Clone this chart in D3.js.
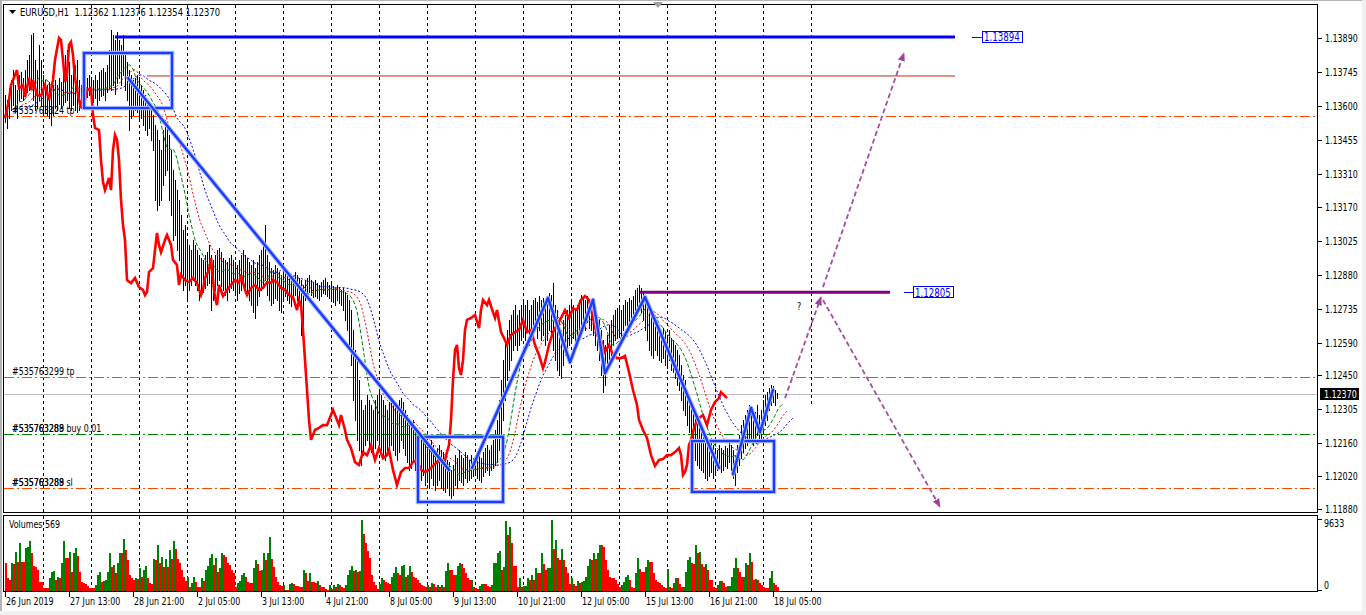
<!DOCTYPE html>
<html>
<head>
<meta charset="utf-8">
<title>EURUSD,H1</title>
<script src="https://cdnjs.cloudflare.com/ajax/libs/d3/7.8.5/d3.min.js"></script>
<style>
 html,body{margin:0;padding:0;background:#ffffff;overflow:hidden;}
 svg{display:block;}
 text{font-family:"Liberation Sans Narrow","DejaVu Sans Condensed","DejaVu Sans",sans-serif;font-size:11px;fill:#000;white-space:pre;}
</style>
</head>
<body>
<svg id="chart" width="1366" height="615"></svg>
<script>
// ---------------- DATA ----------------
const symbol = "EURUSD,H1";
const lastOHLC = ["1.12362", "1.12376", "1.12354", "1.12370"];
const bidPrice = 1.12370;
const volumeLabel = "Volumes 569";

// H1 bars, index 0 = 26 Jun 2019 05:00
const highs = [
1.13647,1.13625,1.13676,1.13711,1.13753,1.13689,1.13668,1.13732,1.13744,1.13719,
1.13753,1.13796,1.13817,1.13903,1.13911,1.13796,1.13753,1.13860,1.13796,1.13732,
1.13711,1.13689,1.13702,1.13676,1.13689,1.13711,1.13689,1.13719,1.13702,1.13753,
1.13817,1.13839,1.13787,1.13732,1.13804,1.13775,1.13796,1.13711,1.13689,1.13711,
1.13694,1.13719,1.13732,1.13719,1.13711,1.13732,1.13711,1.13744,1.13753,1.13762,
1.13744,1.13775,1.13839,1.13924,1.13903,1.13881,1.13915,1.13881,1.13860,1.13903,
1.13817,1.13787,1.13753,1.13732,1.13711,1.13719,1.13732,1.13711,1.13689,1.13668,
1.13647,1.13625,1.13604,1.13583,1.13561,1.13519,1.13497,1.13455,1.13412,1.13497,
1.13540,1.13519,1.13476,1.13412,1.13327,1.13284,1.13241,1.13199,1.13134,1.13071,
1.13092,1.13028,1.13007,1.12985,1.13028,1.13007,1.12985,1.12964,1.12951,1.12943,
1.12964,1.12976,1.13007,1.12964,1.12943,1.12964,1.12985,1.12994,1.12976,1.12951,
1.12943,1.12934,1.12951,1.12964,1.12943,1.12934,1.12921,1.12943,1.12964,1.12985,
1.12964,1.12951,1.12934,1.12921,1.12943,1.12908,1.12934,1.12964,1.12985,1.13028,
1.13092,1.12964,1.12934,1.12908,1.12900,1.12921,1.12908,1.12891,1.12879,1.12891,
1.12900,1.12879,1.12866,1.12857,1.12875,1.12891,1.12879,1.12866,1.12857,1.12836,
1.12857,1.12866,1.12879,1.12857,1.12848,1.12857,1.12844,1.12836,1.12848,1.12857,
1.12866,1.12848,1.12836,1.12840,1.12832,1.12823,1.12836,1.12827,1.12815,1.12823,
1.12806,1.12793,1.12772,1.12729,1.12644,1.12559,1.12516,1.12431,1.12345,1.12303,
1.12324,1.12366,1.12345,1.12324,1.12303,1.12345,1.12366,1.12388,1.12366,1.12345,
1.12324,1.12303,1.12336,1.12353,1.12345,1.12324,1.12311,1.12345,1.12353,1.12336,
1.12303,1.12281,1.12260,1.12238,1.12260,1.12217,1.12208,1.12183,1.12175,1.12196,
1.12175,1.12153,1.12140,1.12175,1.12153,1.12132,1.12140,1.12153,1.12132,1.12123,
1.12110,1.12089,1.12080,1.12047,1.12068,1.12110,1.12097,1.12132,1.12110,1.12097,
1.12123,1.12110,1.12089,1.12110,1.12097,1.12110,1.12123,1.12110,1.12097,1.12123,
1.12140,1.12153,1.12132,1.12153,1.12175,1.12217,1.12260,1.12345,1.12431,1.12516,
1.12601,1.12644,1.12687,1.12708,1.12729,1.12750,1.12708,1.12729,1.12750,1.12772,
1.12750,1.12772,1.12729,1.12750,1.12772,1.12780,1.12763,1.12789,1.12772,1.12780,
1.12772,1.12789,1.12802,1.12793,1.12844,1.12750,1.12729,1.12687,1.12644,1.12687,
1.12708,1.12729,1.12750,1.12772,1.12750,1.12729,1.12750,1.12772,1.12793,1.12780,
1.12772,1.12789,1.12772,1.12763,1.12750,1.12729,1.12708,1.12687,1.12644,1.12601,
1.12580,1.12622,1.12665,1.12687,1.12708,1.12729,1.12737,1.12750,1.12729,1.12750,
1.12772,1.12763,1.12780,1.12772,1.12789,1.12815,1.12823,1.12836,1.12823,1.12806,
1.12772,1.12750,1.12729,1.12708,1.12687,1.12695,1.12678,1.12665,1.12644,1.12652,
1.12635,1.12622,1.12644,1.12609,1.12601,1.12580,1.12559,1.12537,1.12494,1.12452,
1.12431,1.12388,1.12366,1.12345,1.12303,1.12281,1.12260,1.12238,1.12217,1.12196,
1.12183,1.12175,1.12166,1.12175,1.12153,1.12140,1.12132,1.12153,1.12140,1.12132,
1.12149,1.12140,1.12175,1.12153,1.12132,1.12110,1.12153,1.12196,1.12238,1.12260,
1.12281,1.12303,1.12324,1.12311,1.12303,1.12294,1.12324,1.12281,1.12303,1.12345,
1.12366,1.12379,1.12396,1.12409,1.12405,1.12388,1.12376
];
const lows = [
1.13531,1.13506,1.13548,1.13583,1.13604,1.13574,1.13548,1.13625,1.13634,1.13625,
1.13647,1.13659,1.13668,1.13689,1.13625,1.13583,1.13591,1.13625,1.13604,1.13574,
1.13574,1.13561,1.13548,1.13519,1.13561,1.13591,1.13583,1.13608,1.13591,1.13604,
1.13616,1.13625,1.13591,1.13583,1.13604,1.13583,1.13574,1.13583,1.13591,1.13625,
1.13625,1.13638,1.13647,1.13625,1.13616,1.13634,1.13600,1.13625,1.13643,1.13647,
1.13625,1.13659,1.13676,1.13668,1.13690,1.13650,1.13700,1.13719,1.13689,1.13732,
1.13668,1.13625,1.13497,1.13548,1.13561,1.13583,1.13574,1.13540,1.13548,1.13519,
1.13497,1.13476,1.13506,1.13455,1.13412,1.13199,1.13156,1.13177,1.13199,1.13262,
1.13305,1.13327,1.13199,1.13134,1.13028,1.13049,1.12985,1.12943,1.12879,1.12815,
1.12836,1.12772,1.12815,1.12836,1.12857,1.12836,1.12815,1.12772,1.12793,1.12806,
1.12823,1.12836,1.12844,1.12729,1.12772,1.12815,1.12836,1.12857,1.12832,1.12815,
1.12793,1.12772,1.12806,1.12823,1.12815,1.12793,1.12772,1.12802,1.12815,1.12836,
1.12823,1.12806,1.12772,1.12750,1.12720,1.12695,1.12750,1.12789,1.12815,1.12836,
1.12857,1.12793,1.12772,1.12750,1.12759,1.12780,1.12772,1.12729,1.12720,1.12772,
1.12789,1.12772,1.12759,1.12746,1.12780,1.12793,1.12772,1.12750,1.12622,1.12644,
1.12772,1.12789,1.12806,1.12793,1.12784,1.12789,1.12780,1.12772,1.12789,1.12802,
1.12798,1.12789,1.12780,1.12772,1.12763,1.12750,1.12772,1.12759,1.12750,1.12729,
1.12687,1.12644,1.12580,1.12494,1.12345,1.12260,1.12175,1.12132,1.12068,1.12110,
1.12153,1.12175,1.12140,1.12123,1.12110,1.12140,1.12175,1.12153,1.12132,1.12110,
1.12089,1.12110,1.12140,1.12153,1.12132,1.12110,1.12089,1.12123,1.12175,1.12140,
1.12110,1.12080,1.12047,1.12055,1.12080,1.12047,1.12025,1.12012,1.12004,1.12025,
1.11982,1.11995,1.11969,1.12012,1.11982,1.11961,1.11982,1.12004,1.11969,1.11961,
1.11952,1.11969,1.11940,1.11927,1.11940,1.11982,1.11969,1.12004,1.11995,1.11982,
1.12012,1.11995,1.12004,1.12012,1.12021,1.12025,1.12012,1.12004,1.11995,1.12021,
1.12038,1.12047,1.12025,1.12047,1.12055,1.12068,1.12080,1.12132,1.12175,1.12260,
1.12345,1.12431,1.12473,1.12516,1.12559,1.12580,1.12559,1.12580,1.12601,1.12622,
1.12601,1.12635,1.12580,1.12601,1.12622,1.12644,1.12609,1.12644,1.12601,1.12622,
1.12580,1.12601,1.12644,1.12622,1.12559,1.12516,1.12473,1.12452,1.12439,1.12494,
1.12537,1.12559,1.12580,1.12601,1.12609,1.12580,1.12601,1.12622,1.12644,1.12665,
1.12644,1.12678,1.12652,1.12644,1.12622,1.12580,1.12559,1.12516,1.12452,1.12379,
1.12409,1.12473,1.12516,1.12537,1.12580,1.12601,1.12609,1.12622,1.12601,1.12644,
1.12665,1.12644,1.12665,1.12678,1.12687,1.12695,1.12708,1.12729,1.12720,1.12687,
1.12644,1.12601,1.12559,1.12537,1.12524,1.12559,1.12537,1.12516,1.12507,1.12524,
1.12494,1.12481,1.12516,1.12473,1.12464,1.12439,1.12409,1.12388,1.12345,1.12303,
1.12281,1.12238,1.12208,1.12175,1.12132,1.12089,1.12068,1.12055,1.12047,1.12038,
1.12012,1.12004,1.12021,1.12038,1.12012,1.12025,1.12047,1.12055,1.12038,1.12047,
1.12064,1.12055,1.12080,1.12047,1.12012,1.11982,1.12038,1.12068,1.12097,1.12123,
1.12140,1.12153,1.12175,1.12166,1.12153,1.12175,1.12196,1.12175,1.12183,1.12217,
1.12238,1.12260,1.12303,1.12324,1.12336,1.12324,1.12354
];
const volumes = [
3750,1718,1492,3752,3700,5334,3978,6464,3978,3900,
5786,5921,6780,5108,3390,3209,2848,1266,1220,452,
440,430,1718,2622,2712,1492,1944,1718,3752,6780,
4430,4420,5334,2622,5108,5786,4746,2622,1266,1040,
1000,678,452,430,362,814,2170,2622,1266,1356,
1492,2622,5108,3300,3526,2396,3752,5198,5108,7006,
5560,4204,2170,1718,1492,1718,1600,3074,1944,2848,
3390,1718,1040,1000,4294,4204,6238,3752,4656,3300,
4294,3300,5560,4294,6780,5650,4294,3752,2848,1944,
1401,1944,588,1130,1944,1266,588,497,1718,1356,
2848,3390,4430,4972,3526,4430,2622,3074,5198,4882,
4656,3752,3526,2848,2396,588,1130,1356,2170,2396,
1944,1266,1130,1100,3074,4204,3661,2757,2800,5108,
4204,5198,7368,4294,3300,1944,1266,814,678,814,
136,136,949,1040,949,678,678,588,588,2848,
2486,1401,2396,1266,1250,1130,1401,814,497,480,
226,136,814,226,814,588,949,814,588,362,
814,2170,2848,3390,2712,2848,2622,2712,9633,7729,
6554,5469,4430,2170,1266,814,226,949,1718,1492,
1266,1040,949,1944,2396,3300,2396,2170,3390,3526,
1944,2170,3390,2622,1944,1718,1492,1130,814,678,
588,814,588,1130,904,588,814,588,814,588,
2712,3842,2848,2800,2170,2200,3390,3842,3616,3074,
2396,1718,1492,1520,588,452,271,678,949,930,
900,678,588,814,3752,3780,5108,5424,2848,3300,
9492,7594,8724,6464,3390,3380,588,1718,588,678,
700,1718,1492,2170,1492,3074,2396,2396,5108,3616,
2848,3074,3100,9600,5650,6916,4430,4204,5650,4204,
3300,2396,949,1718,949,678,1401,1130,1266,1356,
1944,3390,4294,4250,5198,4294,5108,6238,6200,6012,
4204,2848,1944,1718,1700,1492,949,497,814,1266,
1944,2170,1492,588,362,2396,4430,2938,2622,2600,
3300,4204,3978,3950,2396,1492,1266,1040,814,497,
362,2938,588,362,1130,1718,1700,949,588,600,
2622,4204,4656,3752,3700,6238,5108,5334,3661,3300,
3661,2848,1492,1450,497,362,814,1401,1356,1130,
497,678,700,1944,3164,4430,3074,2622,1944,1950,
3842,3526,5108,3978,1492,1582,1492,1130,814,497,
362,350,1718,2712,1040,814,569
];

// thick red overlay line: [bar index, price]
const redLine = [
[0,1.13548],[2,1.13625],[3,1.13689],[5,1.13732],[6,1.13753],[7,1.13676],[9,1.13689],[10,1.13638],[12,1.13719],[13,1.13668],
[14,1.13711],[16,1.13647],[18,1.13643],[20,1.13689],[22,1.13625],[24,1.13711],[25,1.13796],[27,1.13890],[28,1.13881],[29,1.13796],
[30,1.13702],[31,1.13732],[32,1.13860],[33,1.13873],[34,1.13817],[35,1.13719],[37,1.13625],[38,1.13591],[39,1.13659],[40,1.13625],
[41,1.13668],[43,1.13676],[44,1.13561],[45,1.13506],[47,1.13497],[48,1.13369],[49,1.13275],[50,1.13241],[52,1.13293],[53,1.13241],
[54,1.13412],[55,1.13476],[56,1.13455],[57,1.13369],[58,1.13199],[59,1.13092],[60,1.13028],[61,1.12857],[63,1.12844],[65,1.12866],
[67,1.12827],[69,1.12815],[70,1.12793],[71,1.12806],[72,1.12891],[74,1.12908],[75,1.12985],[76,1.13058],[77,1.13007],[78,1.12976],
[80,1.13028],[81,1.13049],[83,1.13007],[84,1.12943],[86,1.12921],[87,1.12836],[88,1.12879],[90,1.12857],[92,1.12848],[94,1.12866],
[96,1.12844],[98,1.12793],[99,1.12815],[100,1.12866],[102,1.12900],[103,1.12951],[104,1.12857],[105,1.12784],[106,1.12750],[107,1.12836],
[109,1.12789],[111,1.12815],[113,1.12836],[115,1.12857],[117,1.12844],[118,1.12879],[120,1.12815],[121,1.12793],[123,1.12823],[125,1.12836],
[127,1.12815],[129,1.12823],[131,1.12848],[133,1.12844],[134,1.12857],[136,1.12848],[138,1.12823],[140,1.12815],[142,1.12793],[144,1.12784],
[146,1.12729],[147,1.12772],[148,1.12750],[149,1.12644],[150,1.12516],[151,1.12388],[152,1.12260],[153,1.12175],[155,1.12217],[157,1.12226],
[159,1.12238],[161,1.12238],[163,1.12281],[164,1.12303],[166,1.12260],[167,1.12238],[168,1.12281],[170,1.12217],[171,1.12175],[173,1.12140],
[175,1.12080],[177,1.12068],[179,1.12123],[181,1.12110],[183,1.12153],[185,1.12089],[187,1.12140],[189,1.12097],[191,1.12110],[192,1.12132],
[194,1.12047],[196,1.11982],[198,1.12038],[200,1.12055],[202,1.12055],[204,1.12080],[206,1.12089],[208,1.12047],[210,1.12038],[212,1.12047],
[214,1.12064],[216,1.12080],[218,1.12089],[220,1.12089],[221,1.12123],[222,1.12153],[223,1.12260],[224,1.12431],[225,1.12559],[226,1.12580],
[227,1.12481],[228,1.12452],[229,1.12516],[230,1.12644],[231,1.12687],[233,1.12695],[235,1.12708],[237,1.12652],[238,1.12729],[239,1.12772],
[241,1.12750],[242,1.12772],[244,1.12720],[245,1.12695],[246,1.12729],[248,1.12635],[250,1.12601],[251,1.12580],[253,1.12622],[255,1.12635],
[257,1.12644],[259,1.12687],[261,1.12635],[263,1.12644],[265,1.12580],[267,1.12537],[269,1.12481],[270,1.12507],[272,1.12580],[274,1.12635],
[276,1.12665],[278,1.12695],[280,1.12729],[282,1.12695],[284,1.12737],[286,1.12729],[288,1.12772],[290,1.12789],[292,1.12772],[294,1.12695],
[296,1.12622],[298,1.12601],[300,1.12550],[302,1.12580],[304,1.12537],[306,1.12524],[308,1.12524],[310,1.12533],[312,1.12464],[314,1.12388],
[316,1.12324],[317,1.12260],[319,1.12217],[321,1.12183],[323,1.12110],[325,1.12064],[327,1.12089],[329,1.12093],[331,1.12110],[333,1.12110],
[335,1.12123],[337,1.12140],[338,1.12110],[339,1.12025],[340,1.12038],[341,1.12068],[342,1.12153],[343,1.12175],[344,1.12208],[345,1.12238],
[347,1.12268],[349,1.12281],[351,1.12238],[353,1.12303],[355,1.12336],[357,1.12353],[358,1.12379],[360,1.12362],[361,1.12353]
];

// axes
const priceTicks = [1.13890,1.13745,1.13600,1.13455,1.13310,1.13170,1.13025,1.12880,1.12735,1.12590,1.12450,1.12305,1.12160,1.12020,1.11880];
const volumeMax = 9633;
const timeLabels = [[0,"26 Jun 2019"],[32,"27 Jun 13:00"],[64,"28 Jun 21:00"],[96,"2 Jul 05:00"],[128,"3 Jul 13:00"],[160,"4 Jul 21:00"],
  [192,"8 Jul 05:00"],[224,"9 Jul 13:00"],[256,"10 Jul 21:00"],[288,"12 Jul 05:00"],[320,"15 Jul 13:00"],[352,"16 Jul 21:00"],[384,"18 Jul 05:00"]];
const daySeparators = [19,43,67,91,115,139,163,187,211,235,259,283,307,331,355,379,403];

// trade levels
const orderPrices = [1.13557, 1.12445, 1.12200, 1.11969];
const orderLabels = [["#535763324 tp"], ["#535763299 tp"], ["#535763289 buy 0.01", "#535763288"], ["#535763288 sl", "#535763289"]];

// analysis objects (bar index, price)
const trendLines = [
 [61.5,1.13719,222,1.12047],[233.5,1.12055,271.5,1.12780],[271.5,1.12780,282.5,1.12507],[282.5,1.12507,294,1.12772],
 [294,1.12772,300,1.12460],[300,1.12460,320,1.12784],[320,1.12784,357,1.12055],
 [364,1.12029,373,1.12311],[373,1.12311,377.5,1.12208],[377.5,1.12208,384,1.12388]
];
const rectangles = [[39.5,1.13826,83.5,1.13591],[206.5,1.12188,249,1.11910],[343.5,1.12170,384.5,1.11953]];
const levelLines = [[1.13894,55,475],[1.13728,71,475],[1.12805,317.5,442.5]];
const levelTags = [[1.13894,483.5,488.5],[1.12805,449.5,454]];
const arrows = [[390,1.12353,408,1.12784],[409,1.12827,449.5,1.13826],[409,1.12772,467.5,1.11889]];
const questionMark = [396,1.12729];
const separatorStop = 1.12320; // the future-day separator stops here

// ---------------- DRAW ----------------
const svg = d3.select('#chart');
const x = d3.scaleLinear().domain([0, 656]).range([5, 1317]);
const y = d3.scaleLinear().domain([1.11880, 1.13890]).range([509, 38]);
const yv = d3.scaleLinear().domain([0, volumeMax]).range([591, 520]);
const px = i => Math.round(x(i)) + 0.5;
const py = p => Math.round(y(p)) + 0.5;
const NARROW = 0.8;   // condense the fallback font to MT4's narrow label width
function condense(sel, target){
  const n = sel.node();
  const w = n.getComputedTextLength();
  sel.attr('textLength', (target || w*NARROW).toFixed(1)).attr('lengthAdjust','spacingAndGlyphs');
  return sel;
}
function addText(g, tx, ty, str, target){
  return condense(g.append('text').attr('x',tx).attr('y',ty).text(str), target);
}

svg.append('rect').attr('width',1366).attr('height',615).attr('fill','#fff');
svg.append('rect').attr('x',0).attr('y',0).attr('width',2).attr('height',615).attr('fill','#b4b4b4');
svg.append('rect').attr('x',0).attr('y',0).attr('width',1366).attr('height',1).attr('fill','#b4b4b4');
svg.append('rect').attr('x',1362).attr('y',0).attr('width',4).attr('height',615).attr('fill','#f0f0f0');
svg.append('rect').attr('x',0).attr('y',611).attr('width',1366).attr('height',4).attr('fill','#f0f0f0');

const defs = svg.append('defs');
defs.append('clipPath').attr('id','clipMain').append('rect').attr('x',4).attr('y',5).attr('width',1313).attr('height',507);
defs.append('clipPath').attr('id','clipVol').append('rect').attr('x',4).attr('y',516).attr('width',1313).attr('height',75);
defs.append('marker').attr('id','arrowHead').attr('viewBox','0 0 10 10').attr('refX',9).attr('refY',5)
  .attr('markerWidth',9).attr('markerHeight',9).attr('markerUnits','userSpaceOnUse').attr('orient','auto')
  .append('path').attr('d','M0,1 L10,5 L0,9 z').attr('fill','#a040a0');

const gm = svg.append('g').attr('clip-path','url(#clipMain)');
const gv = svg.append('g').attr('clip-path','url(#clipVol)');

// day separators
gm.selectAll('line.sep').data(daySeparators).join('line')
  .attr('x1',d=>px(d)).attr('x2',d=>px(d)).attr('y1',5)
  .attr('y2',d=> d===daySeparators[daySeparators.length-1] ? y(separatorStop) : 513)
  .attr('stroke','#000').attr('stroke-width',1).attr('stroke-dasharray','3,3').attr('shape-rendering','crispEdges');
gv.selectAll('line.sep').data(daySeparators).join('line')
  .attr('x1',d=>px(d)).attr('x2',d=>px(d)).attr('y1',516).attr('y2',592)
  .attr('stroke','#000').attr('stroke-width',1).attr('stroke-dasharray','3,3').attr('shape-rendering','crispEdges');

// order lines
const orderColors = ['#ff4500','#ff4500','#008000','#ff4500'];
orderPrices.forEach((p,k)=>{
  gm.append('line').attr('x1',4).attr('x2',1318).attr('y1',py(p)).attr('y2',py(p))
    .attr('stroke',orderColors[k]).attr('stroke-width',1).attr('stroke-dasharray','10,3,2,3').attr('shape-rendering','crispEdges');
});
// bid line
gm.append('line').attr('x1',4).attr('x2',1318).attr('y1',py(bidPrice)).attr('y2',py(bidPrice))
  .attr('stroke','#c0c0c0').attr('stroke-width',1).attr('shape-rendering','crispEdges');

// price bars
gm.append('g').selectAll('line').data(highs).join('line')
  .attr('x1',(d,i)=>px(i)).attr('x2',(d,i)=>px(i))
  .attr('y1',d=>Math.round(y(d))).attr('y2',(d,i)=>Math.round(y(lows[i]))+1)
  .attr('stroke','#000').attr('stroke-width',1).attr('shape-rendering','crispEdges');

// Alligator (smoothed moving averages of the median price, shifted forward)
const median = highs.map((h,i)=>(h+lows[i])/2);
function smma(src,n){ let s = src[0]; return src.map((v,i)=>{ s = i===0 ? v : (s*(n-1)+v)/n; return s; }); }
const alligator = [
  {vals: smma(median,13), shift:8, color:'#0000ff', dash:'2,2'},
  {vals: smma(median,8),  shift:5, color:'#ff0000', dash:'2,2'},
  {vals: smma(median,5),  shift:3, color:'#008000', dash:'4,2'}
];
const lineGen = d3.line().x(d=>x(d[0])).y(d=>y(d[1]));
alligator.forEach(a=>{
  gm.append('path').attr('d', lineGen(a.vals.map((v,i)=>[i+a.shift, v])))
    .attr('fill','none').attr('stroke',a.color).attr('stroke-width',1).attr('stroke-dasharray',a.dash);
});

// thick red line
gm.append('path').attr('d', lineGen(redLine)).attr('fill','none').attr('stroke','#ff0000')
  .attr('stroke-width',2.6).attr('stroke-linejoin','miter');

// level lines
const levelColors = ['#0000ff','#b83208','#800080'];
const levelWidths = [3,1,3];
levelLines.forEach((l,k)=>{
  gm.append('line').attr('x1',x(l[1])).attr('x2',x(l[2])).attr('y1',y(l[0])).attr('y2',y(l[0]))
    .attr('stroke',levelColors[k]).attr('stroke-width',levelWidths[k]);
});
levelTags.forEach(t=>{
  const yy = y(t[0]);
  gm.append('line').attr('x1',x(t[1])).attr('x2',x(t[2])).attr('y1',Math.round(yy)+0.5).attr('y2',Math.round(yy)+0.5)
    .attr('stroke','#0000ff').attr('stroke-width',1);
  const box = gm.append('rect');
  const txt = gm.append('text').attr('x',x(t[2])+2).attr('y',yy).attr('dy','0.36em')
    .style('fill','#0000ff').style('font-size','12px').text(t[0].toFixed(5));
  condense(txt);
  const w = +txt.attr('textLength');
  box.attr('x',Math.round(x(t[2]))+0.5).attr('y',Math.round(yy-6)+0.5)
    .attr('width',Math.round(w+4)).attr('height',11).attr('fill','#fff').attr('stroke','#0000ff').attr('stroke-width',1);
});

// rectangles (selected look: halo + core)
rectangles.forEach(r=>{
  const rx = x(r[0]), ry = y(r[1]), rw = x(r[2])-x(r[0]), rh = y(r[3])-y(r[1]);
  gm.append('rect').attr('x',rx).attr('y',ry).attr('width',rw).attr('height',rh)
    .attr('fill','none').attr('stroke','#a8b8ff').attr('stroke-width',4.5);
  gm.append('rect').attr('x',rx).attr('y',ry).attr('width',rw).attr('height',rh)
    .attr('fill','none').attr('stroke','#1a3cff').attr('stroke-width',2.2);
});
// trend lines
trendLines.forEach(t=>{
  gm.append('line').attr('x1',x(t[0])).attr('y1',y(t[1])).attr('x2',x(t[2])).attr('y2',y(t[3]))
    .attr('stroke','#a8b8ff').attr('stroke-width',4.5).attr('stroke-linecap','round');
});
trendLines.forEach(t=>{
  gm.append('line').attr('x1',x(t[0])).attr('y1',y(t[1])).attr('x2',x(t[2])).attr('y2',y(t[3]))
    .attr('stroke','#1a3cff').attr('stroke-width',2.4).attr('stroke-linecap','round');
});
// dashed arrows
arrows.forEach(a=>{
  gm.append('line').attr('x1',x(a[0])).attr('y1',y(a[1])).attr('x2',x(a[2])).attr('y2',y(a[3]))
    .attr('stroke','#a64ca6').attr('stroke-width',1.8).attr('stroke-dasharray','5,3').attr('marker-end','url(#arrowHead)');
});
addText(gm, x(questionMark[0]), y(questionMark[1]), '?');

// order labels
orderPrices.forEach((p,k)=>{
  orderLabels[k].forEach(s=>{ addText(gm, x(3.5), y(p)-2, s); });
});

// volumes
gv.append('g').selectAll('rect').data(volumes).join('rect')
  .attr('x',(d,i)=>Math.round(x(i))).attr('width',2)
  .attr('y',d=>Math.round(yv(d))).attr('height',d=>591-Math.round(yv(d)))
  .attr('fill',(d,i)=> i>0 && d>volumes[i-1] ? '#008000' : '#ff0000')
  .attr('shape-rendering','crispEdges');
addText(svg, 9, 528, volumeLabel);

// frames
svg.append('rect').attr('x',3.5).attr('y',4.5).attr('width',1314).attr('height',508)
  .attr('fill','none').attr('stroke','#000').attr('stroke-width',1).attr('shape-rendering','crispEdges');
svg.append('rect').attr('x',3.5).attr('y',515.5).attr('width',1314).attr('height',76)
  .attr('fill','none').attr('stroke','#000').attr('stroke-width',1).attr('shape-rendering','crispEdges');

// price axis
const ga = svg.append('g');
priceTicks.forEach(t=>{
  ga.append('line').attr('x1',1318).attr('x2',1322).attr('y1',py(t)).attr('y2',py(t)).attr('stroke','#000').attr('shape-rendering','crispEdges');
  addText(ga, 1325, y(t)+4, t.toFixed(5));
});
// bid tag
ga.append('rect').attr('x',1320).attr('y',Math.round(y(bidPrice))-6).attr('width',39).attr('height',12).attr('fill','#000');
addText(ga, 1324, y(bidPrice)+4, bidPrice.toFixed(5)).style('fill','#fff');
// volume axis
[[volumeMax, 3],[0,-6]].forEach(v=>{
  ga.append('line').attr('x1',1318).attr('x2',1322).attr('y1',Math.round(yv(v[0]))-0.5).attr('y2',Math.round(yv(v[0]))-0.5).attr('stroke','#000');
  addText(ga, 1324, yv(v[0])+v[1]+4, String(v[0]));
});

// time axis
timeLabels.forEach(t=>{
  ga.append('line').attr('x1',px(t[0])).attr('x2',px(t[0])).attr('y1',592).attr('y2',597).attr('stroke','#000').attr('shape-rendering','crispEdges');
  addText(ga, x(t[0])+1, 605, t[1]);
});

// header
svg.append('path').attr('d','M9,10 L16,10 L12.5,14 Z').attr('fill','#000');
addText(svg, 20, 16, symbol + '  ' + lastOHLC.join(' '), 200);
// chart-shift marker
svg.append('path').attr('d',`M${x(326.5)-5},2 L${x(326.5)+5},2 L${x(326.5)},8 Z`).attr('fill','#a0a0a0');
</script>
</body>
</html>
